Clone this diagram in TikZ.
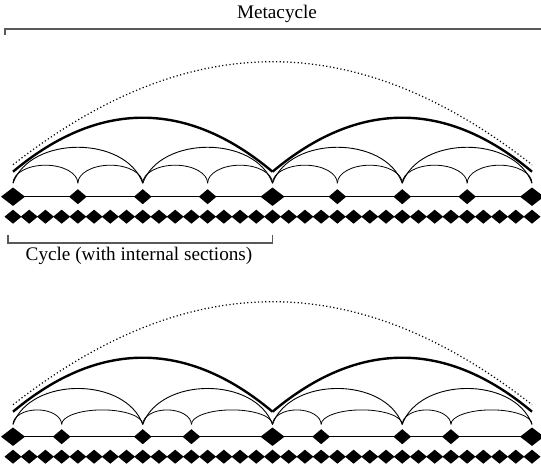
\documentclass[tikz,border=0pt]{standalone}
\usepackage{fontspec}
\setmainfont{Liberation Serif}
\def\u{16.21875}
\tikzset{
  pt/.style={shape=coordinate},
  rowline/.style={line width=0.9pt},
  smallarc/.style={line width=0.8pt},
  midarc/.style={line width=0.9pt},
  bigarc/.style={line width=2.4pt},
  metaarc/.style={line width=1.2pt,dash pattern=on 1.2pt off 2.4pt},
  bracket/.style={line width=1.1pt,draw=black!65},
  lbl/.style={anchor=base,inner sep=0pt,font=\fontsize{19.2}{22}\selectfont}
}
% diamond: #1 node name, #2 x, #3 y, #4 half width, #5 half height
\newcommand\dmd[5]{%
  \node[pt] (#1) at (#2,#3) {};
  \fill (#1) +(-#4,0) -- +(0,#5) -- +(#4,0) -- +(0,-#5) -- cycle;
}
% #1 prefix, #2 row y, #3 foot offset, #4 small arc height, #5 medium positions, #6 small arc pairs
\newcommand\cyclerow[6]{%
  \foreach \i in {0,...,32} {
    \pgfmathsetmacro\xx{13+\i*\u}
    \dmd{#1s\i}{\xx}{#2-20}{8.5}{7}
  }
  \foreach \i in {0,16,32} {
    \pgfmathsetmacro\xx{13+\i*\u}
    \dmd{#1p\i}{\xx}{#2}{12}{9.2}
  }
  \draw[rowline] (#1p0) -- (#1p32);
  \foreach \i in {#5} {
    \pgfmathsetmacro\xx{13+\i*\u}
    \dmd{#1p\i}{\xx}{#2}{8.8}{7.5}
  }
  \foreach \a/\b in {#6} {
    \pgfmathsetmacro\rx{(\b-\a)*\u/2}
    \draw[smallarc] ([yshift=#3pt]#1p\a) arc[start angle=180,end angle=0,x radius=\rx pt,y radius=#4pt];
  }
  \foreach \a/\b in {0/8,8/16,16/24,24/32}
    \draw[midarc] ([yshift=#3pt]#1p\a) to[out=70,in=110,distance=51pt] ([yshift=#3pt]#1p\b);
  \foreach \a/\b in {0/16,16/32}
    \draw[bigarc] ([yshift=25pt]#1p\a) to[out=40,in=140,distance=112pt] ([yshift=25pt]#1p\b);
  \draw[metaarc] ([yshift=32pt]#1p0) to[out=38,in=142,distance=223pt] ([yshift=32pt]#1p32);
}
\begin{document}
\begin{tikzpicture}[x=1pt,y=1pt]
\useasboundingbox (0,0) rectangle (541,467);
% top label and bracket
\node[lbl] (meta) at (277,448.7) {Metacycle};
\coordinate (mtick) at (5,432);
\coordinate (mleft) at (5,438);
\coordinate (mright) at (541,438);
\draw[bracket] (mtick) -- (mleft) -- (mright);
% first diagram
\cyclerow{a}{270.3}{13.5}{18}{4,8,12,20,24,28}{0/4,4/8,8/12,12/16,16/20,20/24,24/28,28/32}
% cycle bracket
\coordinate (cl1) at (8,232);
\coordinate (cl2) at (8,224);
\coordinate (cr2) at (272.5,224);
\coordinate (cr1) at (272.5,232);
\draw[bracket] (cl1) -- (cl2) -- (cr2) -- (cr1);
\node[lbl] (cyc) at (139,206.3) {Cycle (with internal sections)};
% second diagram
\cyclerow{b}{30.3}{12.3}{14.5}{3,8,11,19,24,27}{0/3,3/8,8/11,11/16,16/19,19/24,24/27,27/32}
\end{tikzpicture}
\end{document}
